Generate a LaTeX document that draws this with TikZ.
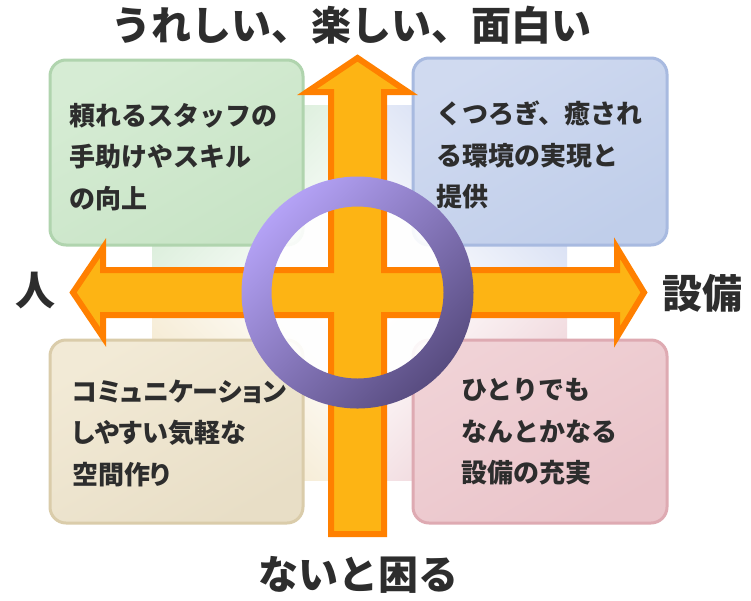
\documentclass[tikz,border=0pt]{standalone}
\usepackage{fontspec}
\newfontfamily\jp{Noto Sans CJK JP}
\newfontfamily\jpp{Noto Sans CJK JP}[RawFeature=+palt]
\definecolor{txt}{RGB}{45,45,45}
\definecolor{arrowfill}{RGB}{253,180,20}
\definecolor{arrowedge}{RGB}{255,128,0}
\definecolor{ringL}{RGB}{180,162,246}
\definecolor{ringD}{RGB}{88,76,128}
\definecolor{greenB}{RGB}{200,228,198}
\definecolor{greenL}{RGB}{214,236,212}
\definecolor{greenE}{RGB}{176,212,174}
\definecolor{blueB}{RGB}{192,206,234}
\definecolor{blueL}{RGB}{208,218,240}
\definecolor{blueE}{RGB}{168,186,224}
\definecolor{beigeB}{RGB}{232,222,198}
\definecolor{beigeL}{RGB}{242,234,214}
\definecolor{beigeE}{RGB}{218,204,170}
\definecolor{pinkB}{RGB}{234,196,202}
\definecolor{pinkL}{RGB}{240,210,214}
\definecolor{pinkE}{RGB}{222,170,178}
\definecolor{bgG}{RGB}{206,232,206}
\definecolor{bgB}{RGB}{204,214,240}
\definecolor{bgY}{RGB}{242,228,196}
\definecolor{bgP}{RGB}{236,204,210}
\begin{document}
\begin{tikzpicture}[x=1pt,y=-1pt,
  card/.style={rounded corners=16pt, line width=3pt},
  boxtext/.style={font=\jp\bfseries\fontsize{26}{41.5}\selectfont, text=txt, align=left, anchor=west, inner sep=0pt},
  boxtextp/.style={boxtext, font=\jpp\bfseries\fontsize{26}{41.5}\selectfont},
  bigtext/.style={font=\jp\bfseries\fontsize{40}{48}\selectfont, text=txt, inner sep=0pt},
  crossarrow/.style={fill=arrowfill, draw=arrowedge, line width=6pt, line join=miter, miter limit=10}
]
\useasboundingbox (0,0) rectangle (751,600);
\fill[white] (0,0) rectangle (751,600);

% background quadrants
\shade[top color=bgG, bottom color=white, shading angle=45] (152,105) rectangle (357.5,292.5);
\shade[top color=bgB, bottom color=white, shading angle=-45] (357.5,105) rectangle (567,292.5);
\shade[top color=white, bottom color=bgY, shading angle=-45] (152,292.5) rectangle (357.5,480);
\shade[top color=white, bottom color=bgP, shading angle=45] (357.5,292.5) rectangle (567,480);

% cards
\path[card, draw=greenE, top color=greenL, bottom color=greenB, shading angle=30] (50,60) rectangle (303,245);
\path[card, draw=blueE, top color=blueL, bottom color=blueB, shading angle=30] (413,58) rectangle (667,245);
\path[card, draw=beigeE, top color=beigeL, bottom color=beigeB, shading angle=30] (50,340) rectangle (303,523);
\path[card, draw=pinkE, top color=pinkL, bottom color=pinkB, shading angle=30] (413,340) rectangle (667,523);

\node[boxtext] (tl) at (69,157) {頼れるスタッフの\\手助けやスキル\\の向上};
\node[boxtext] (tr) at (436,155) {くつろぎ、癒され\\る環境の実現と\\提供};
\node[boxtextp] (bl) at (72,433) {コミュニケーション\\しやすい気軽な\\空間作り};
\node[boxtext] (br) at (461,432) {ひとりでも\\なんとかなる\\設備の充実};

% inner disc
\fill[white, opacity=0.9] (357.5,292.5) circle (100);

% cross arrows
\path[crossarrow]
  (357.5,58) -- (408,92) -- (384,92) -- (384,270) -- (617,270) -- (617,248)
  -- (644,292.5) -- (617,337) -- (617,315) -- (384,315) -- (384,534)
  -- (331,534) -- (331,315) -- (103,315) -- (103,337) -- (73,292.5)
  -- (103,248) -- (103,270) -- (331,270) -- (331,92) -- (307,92) -- cycle;

% ring
\path[even odd rule, top color=ringL, bottom color=ringD, shading angle=45]
  (357.5,292.5) circle (116) (357.5,292.5) circle (86);

% axis labels
\node[bigtext] (top) at (351,25) {うれしい、楽しい、面白い};
\node[bigtext] (bottom) at (358,575) {ないと困る};
\node[bigtext] (left) at (35,291) {人};
\node[bigtext] (right) at (702,293) {設備};
\end{tikzpicture}
\end{document}
